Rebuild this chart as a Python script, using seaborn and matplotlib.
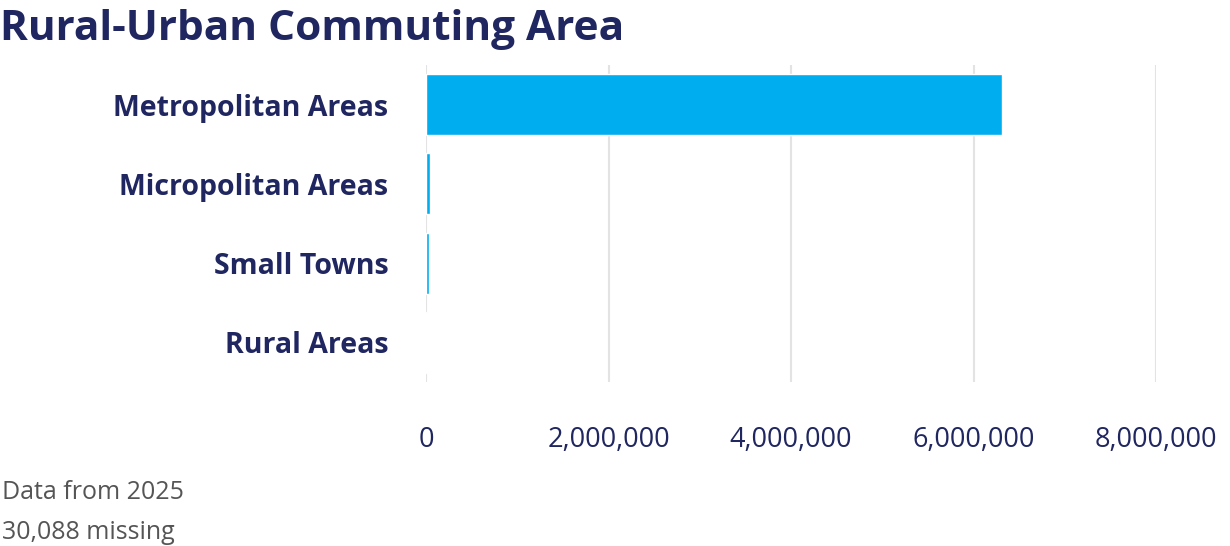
import matplotlib
matplotlib.use("Agg")
import matplotlib.pyplot as plt
import seaborn as sns
import pandas as pd
from matplotlib.ticker import FuncFormatter

# datos
categories = ["Metropolitan Areas", "Micropolitan Areas", "Small Towns", "Rural Areas"]
counts = [6310000, 44000, 29000, 15000]
ticks = [0, 2000000, 4000000, 6000000, 8000000]

navy = "#1f2660"
blue = "#00aeef"

df = pd.DataFrame({"area": categories, "count": counts})

sns.set_style("white")
plt.rcParams["font.family"] = ["Open Sans", "DejaVu Sans"]

fig = plt.figure(figsize=(12.3, 5.46), dpi=100)
ax = fig.add_axes([426 / 1230, (546 - 382) / 546, (1156 - 426) / 1230, (382 - 65) / 546])

sns.barplot(data=df, x="count", y="area", color=blue, saturation=1, width=0.77, ax=ax)

ax.set_xlim(0, 8000000)
ax.set_ylim(3.5, -0.5)
ax.set_xticks(ticks)
ax.xaxis.set_major_formatter(FuncFormatter(lambda v, p: f"{int(v):,}"))
ax.grid(axis="x", color="#e3e3e3", linewidth=1.5)
ax.set_axisbelow(True)
for s in ax.spines.values():
    s.set_visible(False)
ax.tick_params(axis="x", length=0, pad=32, labelsize=19.5, labelcolor=navy)
ax.tick_params(axis="y", length=0, pad=27, labelcolor=navy)
for lab in ax.get_yticklabels():
    lab.set_fontsize(20.5)
    lab.set_fontweight("bold")
ax.set_xlabel("")
ax.set_ylabel("")

fig.text(0.0, 1 - 40 / 546, "Rural-Urban Commuting Area", fontsize=30.5, fontweight="bold",
         color=navy, ha="left", va="baseline")
fig.text(2 / 1230, 1 - 499 / 546, "Data from 2025", fontsize=18, color="#555555", va="baseline")
fig.text(2 / 1230, 1 - 539 / 546, "30,088 missing", fontsize=18, color="#555555", va="baseline")

fig.savefig("out.png", dpi=100)
